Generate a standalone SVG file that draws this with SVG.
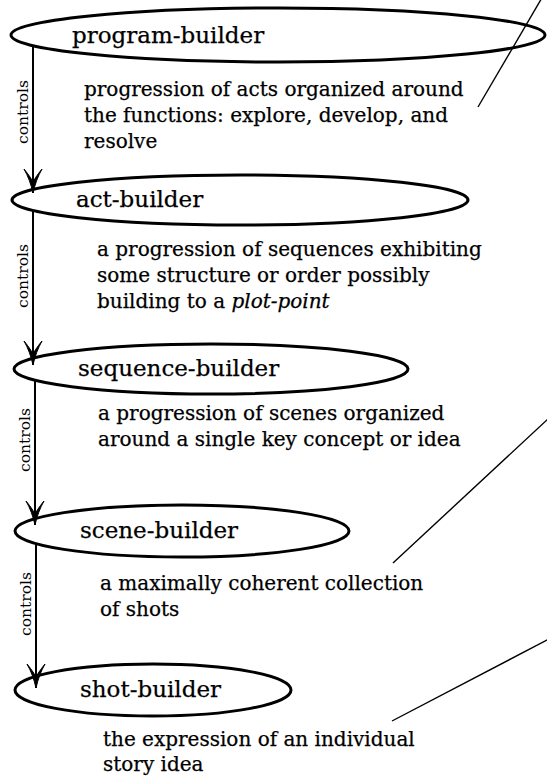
<svg xmlns="http://www.w3.org/2000/svg" width="547" height="779" viewBox="0 0 547 779">
<style>
  .node ellipse { fill: none; stroke: #000; stroke-width: 3; }
  .title { font-family: "DejaVu Serif", "Liberation Serif", serif; font-size: 23px; fill: #000; stroke: #000; stroke-width: 0.25; }
  .body { font-family: "DejaVu Serif", "Liberation Serif", serif; font-size: 20px; fill: #000; stroke: #000; stroke-width: 0.25; }
  .ctl { font-family: "DejaVu Serif", "Liberation Serif", serif; font-size: 15.5px; fill: #000; text-anchor: middle; }
  .arrow { stroke: #000; stroke-width: 2; fill: none; marker-end: url(#head); }
  .lead { stroke: #000; stroke-width: 1.4; fill: none; }
</style>
<defs>
  <marker id="head" markerUnits="userSpaceOnUse" viewBox="-27 -11 29 22" refX="0" refY="0" markerWidth="29" markerHeight="22" orient="auto">
    <path d="M0,0 C-9,-2 -17,-5 -24,-9 C-18,-4 -13,-1 -11,0 C-13,1 -18,4 -24,9 C-17,5 -9,2 0,0 Z" fill="#000" stroke="#000" stroke-width="1"/>
  </marker>
</defs>
<rect width="547" height="779" fill="#fff"/>

<g id="connectors">
  <line class="arrow" x1="33" y1="46" x2="33" y2="193"/>
  <line class="arrow" x1="33" y1="211" x2="33" y2="365"/>
  <line class="arrow" x1="35" y1="380" x2="35" y2="525"/>
  <line class="arrow" x1="36" y1="544" x2="36" y2="688"/>
  <text class="ctl" transform="translate(28,112) rotate(-90)">controls</text>
  <text class="ctl" transform="translate(28,276) rotate(-90)">controls</text>
  <text class="ctl" transform="translate(30,440) rotate(-90)">controls</text>
  <text class="ctl" transform="translate(31,604) rotate(-90)">controls</text>
  <line class="lead" x1="543" y1="-4" x2="478" y2="107"/>
  <line class="lead" x1="549" y1="418" x2="393" y2="563"/>
  <line class="lead" x1="549" y1="639" x2="392" y2="721"/>
</g>

<g id="program-builder" class="node">
  <ellipse cx="278" cy="35" rx="267" ry="27"/>
  <text class="title" x="72" y="43">program-builder</text>
  <text class="body" x="84" y="96">progression of acts organized around</text>
  <text class="body" x="84" y="122">the functions: explore, develop, and</text>
  <text class="body" x="84" y="148">resolve</text>
</g>

<g id="act-builder" class="node">
  <ellipse cx="240" cy="200" rx="228" ry="25"/>
  <text class="title" x="76" y="207">act-builder</text>
  <text class="body" x="97" y="256">a progression of sequences exhibiting</text>
  <text class="body" x="97" y="282">some structure or order possibly</text>
  <text class="body" x="97" y="308">building to a <tspan font-style="italic">plot-point</tspan></text>
</g>

<g id="sequence-builder" class="node">
  <ellipse cx="211" cy="369" rx="197" ry="25"/>
  <text class="title" x="78" y="376">sequence-builder</text>
  <text class="body" x="98" y="420">a progression of scenes organized</text>
  <text class="body" x="98" y="446">around a single key concept or idea</text>
</g>

<g id="scene-builder" class="node">
  <ellipse cx="182" cy="531" rx="167" ry="26"/>
  <text class="title" x="80" y="538">scene-builder</text>
  <text class="body" x="100" y="590">a maximally coherent collection</text>
  <text class="body" x="100" y="616">of shots</text>
</g>

<g id="shot-builder" class="node">
  <ellipse cx="153" cy="690" rx="138" ry="26"/>
  <text class="title" x="80" y="697">shot-builder</text>
  <text class="body" x="103" y="746">the expression of an individual</text>
  <text class="body" x="103" y="771">story idea</text>
</g>
</svg>
